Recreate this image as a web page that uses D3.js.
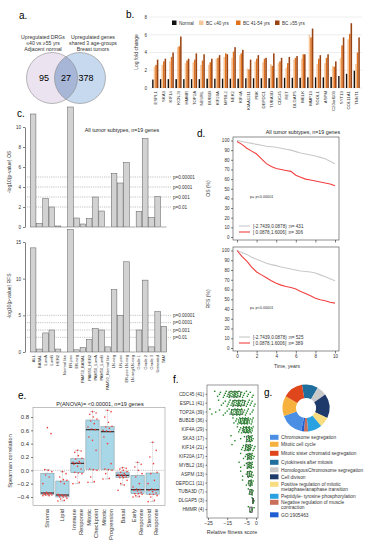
<!DOCTYPE html>
<html>
<head>
<meta charset="utf-8">
<script src="https://cdn.jsdelivr.net/npm/d3@7"></script>
<style>
body{margin:0;background:#fff}
svg{font-family:"Liberation Sans",Arial,sans-serif;display:block}
</style>
</head>
<body>
<svg id="fig" width="377" height="550"></svg>
<script>
// ---- panel a : venn counts
var vennCounts = [95, 27, 378];
var vennLeftText = ["Upregulated DRGs", "\u226440 vs \u226555 yrs", "Adjacent normal"];
var vennRightText = ["Upregulated genes", "shared 3 age-groups", "Breast tumors"];

// ---- panel b : log fold change
var genesB = ["ESPL1","SKA3","KIF14","KCNJ3","HMMR","TOP2A","NEURL","BUB1B","KIF20A","MYBL2","NEK2","KIF4A","KIAA1211","PBK","DEPDC1","TUBA3D","CDC45","RET","DLGAP5","MELK","MMP13","SGOL1","ASPM","C20orf103","SYT13","COL11A1","TNNT1"];
var groupsB = ["Normal", "BC \u226440 yrs", "BC 41-54 yrs", "BC \u226555 yrs"];
var fcNormal = [0.95,1.0,1.0,1.0,1.0,1.0,1.0,1.05,1.05,1.05,1.05,1.05,1.1,1.1,1.1,1.1,1.15,1.15,1.15,1.15,1.2,1.2,1.2,1.25,1.35,1.6,1.95];
var fcYoung  = [2.4,2.6,3.0,4.6,2.8,2.9,2.6,2.6,3.3,3.5,3.4,3.7,2.2,3.0,2.9,2.7,2.8,2.3,3.2,3.3,6.0,2.7,2.8,2.5,3.4,5.5,2.7];
var fcMid    = [2.6,3.0,3.5,4.7,3.1,3.2,3.1,2.9,3.4,3.9,4.1,3.9,2.1,3.3,3.3,2.5,3.0,2.8,3.4,3.8,5.7,3.3,3.4,2.4,4.8,6.1,4.0];
var fcOld    = [3.2,3.3,4.0,5.8,3.3,3.9,3.8,3.3,3.7,3.8,4.6,4.3,3.2,3.7,3.4,3.9,3.4,3.5,3.6,3.8,6.7,3.7,3.8,3.0,5.7,7.3,5.7];
var colorsB = ["#111111", "#f7c79c", "#e0711d", "#9a4413"];

// ---- panel c : -log10 p values per subtype
var subtypes = ["ALL","BASAL","LumA","LumB","HER2","Normal like","ER-pos","ER-neg","PAM50_BASAL","PAM50_HER2","PAM50_LumA","PAM50_LumB","PAM50_Normal like","LN-neg","LN-pos","ER-pos LN-neg","LN-neg/LN-neg","Grade 1","Grade 2","Grade 3","Untreated","TAM"];
var osLogP  = [11.3,0.35,2.85,2.0,0.1,0,12,0.9,0.3,0.85,3.0,1.6,0,5.35,4.4,6.45,0,1.55,8.85,0.95,3.05,0];
var rfsLogP = [14.2,0.4,2.6,3.0,0.4,0,16.7,0.3,0.6,1.7,3.2,3.0,0.7,8.5,5.0,12.3,0,3.0,9.8,0.7,5.5,3.5];
var pLines = [5, 4, 3, 2];
var pLabels = ["p=0.00001", "p=0.0001", "p=0.001", "p=0.01"];

// ---- panel d : survival curves
var kmYears = [0,0.5,1,1.5,2,2.5,3,3.5,4,4.5,5,5.5,6,6.5,7,7.5,8,8.5,9,9.5,10];
var osLow  = [100,99,98,97,96,95,94,93.5,93,92,91,90,88.5,87,86,85,84,82.5,81,78.5,76];
var osHigh = [99,96,92,89,86,81,76,73,71,70,69,68,64,62,60,59,58,57,56,55,53];
var rfsLow  = [100,98,96,93,91,89,87,85.5,84.5,83,82,81,80,79,78.5,78,77,75,73,71,69];
var rfsHigh = [100,94,89,83,78,75,72,69,66.5,64.5,63,62,60.5,58,56,53.5,51,49.5,48.5,47,46];
var osLegend = ["[-2.7439,0.0878) :n= 431", "[ 0.0878,1.6006] :n= 306"];
var rfsLegend = ["[-2.7439,0.0878) :n= 525", "[ 0.0878,1.6006] :n= 389"];

// ---- panel e : spearman correlation per module
var modules = ["Stroma","Lipid","Immune Response","Mitotic Checkpoint","Mitotic Progression","Basal","Early Response","Steroid Response"];
var rhoStroma = [-0.38,-0.38,-0.37,-0.37,-0.36,-0.36,-0.35,-0.35,-0.35,-0.34,-0.33,-0.2,-0.1,-0.07,-0.02,0.0,0.01,0.55,0.64];
var rhoLipid = [-0.46,-0.45,-0.43,-0.42,-0.4,-0.4,-0.39,-0.38,-0.38,-0.37,-0.37,-0.36,-0.2,-0.17,-0.15,-0.14,-0.1,-0.05,-0.02];
var rhoImmune = [-0.2,-0.18,-0.1,-0.05,-0.04,-0.03,0.02,0.06,0.09,0.105,0.11,0.12,0.13,0.17,0.18,0.22,0.27,0.29,0.3];
var rhoCheckpoint = [-0.18,-0.17,-0.1,0.0,0.01,0.02,0.3,0.45,0.5,0.61,0.62,0.65,0.7,0.74,0.77,0.8,0.84,0.86,0.88];
var rhoProgression = [-0.13,-0.12,-0.05,0.0,0.01,0.02,0.1,0.4,0.5,0.58,0.59,0.6,0.63,0.65,0.66,0.72,0.8,0.88,0.9];
var rhoBasal = [-0.3,-0.22,-0.2,-0.15,-0.11,-0.11,-0.1,-0.09,-0.08,-0.075,-0.07,-0.06,-0.05,-0.03,-0.02,0.0,0.02,0.03,0.04];
var rhoEarly = [-0.4,-0.39,-0.38,-0.36,-0.35,-0.35,-0.33,-0.31,-0.3,-0.29,-0.28,-0.25,-0.2,-0.1,-0.05,0.0,0.05,0.09,0.12];
var rhoSteroid = [-0.47,-0.45,-0.4,-0.38,-0.36,-0.36,-0.34,-0.32,-0.3,-0.29,-0.28,-0.2,-0.15,-0.05,-0.03,0.1,0.2,0.3,0.42];
var rhoTicks = [-0.4,-0.2,0.0,0.2,0.4,0.6,0.8];

// ---- panel f : relative fitness scores
var fitGenes = ["CDC45 (41)","ESPL1 (41)","TOP2A (39)","BUB1B (36)","KIF4A (29)","SKA3 (17)","KIF14 (21)","KIF20A (17)","MYBL2 (16)","ASPM (13)","DEPDC1 (11)","TUBA3D (7)","DLGAP5 (3)","HMMR (4)"];
var fitScores = [
  [-21.5,-20,-19,-18.5,-17,-16.5,-16,-15.5,-15,-14.5,-14,-14,-13.5,-13,-13,-12.5,-12,-12,-11.5,-11.5,-11,-11,-10.5,-10.5,-10,-10,-9.5,-9.5,-9,-8.5,-8,-7.5,-7,-6.5,-6,-5,-4.5,-4,-3,-2,-1.5],
  [-19.5,-18,-17,-16,-15,-14.5,-14,-13.5,-13,-12.5,-12,-12,-11.5,-11,-11,-10.5,-10,-10,-9.5,-9.5,-9,-9,-8.5,-8.5,-8,-8,-7.5,-7,-7,-6.5,-6,-5.5,-5,-4.5,-4,-3.5,-3,-2.5,-2,-1,-0.5],
  [-24,-23,-21,-19,-17,-16,-15,-14,-13.5,-13,-12.5,-12,-12,-11.5,-11,-11,-10.5,-10.5,-10,-10,-9.5,-9.5,-9,-9,-8.5,-8.5,-8,-8,-7.5,-7,-6.5,-6,-5.5,-5,-4.5,-4,-3,-2,-1.5],
  [-12,-11.5,-10.5,-10,-9.5,-9,-9,-8.5,-8.5,-8,-8,-7.5,-7.5,-7,-7,-6.5,-6.5,-6,-6,-6,-5.5,-5.5,-5,-5,-5,-4.5,-4.5,-4,-4,-3.5,-3.5,-3,-2.5,-2,-2,-1.5],
  [-9.7,-9,-8.5,-8,-7.5,-7,-7,-6.5,-6,-6,-5.5,-5.5,-5,-5,-5,-4.5,-4.5,-4,-4,-4,-3.5,-3.5,-3,-3,-2.5,-2.5,-2,-2,-1.5],
  [-13,-11,-8,-6,-5,-4.5,-4,-4,-3.5,-3.5,-3,-3,-2.5,-2.5,-2,-2,-1.5],
  [-12.5,-7.5,-7,-6.5,-6,-5.5,-5,-5,-4.5,-4.5,-4,-4,-3.5,-3.5,-3,-3,-2.5,-2,-1.5,-1,-0.5],
  [-8,-6.5,-5.5,-5,-4.5,-4,-4,-3.5,-3.5,-3,-3,-2.5,-2.5,-2,-2,-1.5,-1],
  [-8.8,-8,-6,-5,-4.5,-4,-4,-3.5,-3.5,-3,-3,-2.5,-2.5,-2,-2,-1.5],
  [-8,-7,-5,-4.5,-4,-3.5,-3.5,-3,-3,-2.5,-2,-2,-1.5],
  [-7,-5,-4,-3.5,-3,-3,-2.5,-2.5,-2,-2,-1.5],
  [-4,-3.5,-3,-2.5,-2,-2,-1.5],
  [-2,-1.5,-1],
  [-4,-3,-2,-1]
];
var fitTicks = [-25, -15, -5, 0];

// ---- panel g : GO terms (legend order)
var goTerms = ["Chromosome segregation","Mitotic cell cycle","Mitotic sister chromatid segregation","Cytokinesis after mitosis","HomologousChromosome segregation","Cell divison","Positive regulation of mitotic|metaphase/anaphase transition","Peptidyle- tyrosine phosphorylation","Negative regulation of muscle|contraction","GO:1905463"];
var goShare = [58, 50, 50, 40, 25, 60, 25, 35, 10, 7];
var goColors = ["#4a8fe3","#f7b13e","#e0461c","#1f6e9e","#c9c9c9","#1d3a6b","#f8dc80","#2aa2e2","#c9705a","#1e5ed2"];
var goRingOrder = [3, 4, 5, 6, 7, 8, 9, 0, 1, 2];

var svg = d3.select("#fig");

function panelLabel(x, y, t) {
  svg.append("text").attr("x", x).attr("y", y).attr("font-size", 10).text(t);
}

// ================= a
panelLabel(19, 19, "a.");
var defs = svg.append("defs");
defs.append("clipPath").attr("id", "clipL").append("circle").attr("cx", 52).attr("cy", 78).attr("r", 25.5);
svg.append("circle").attr("cx", 52).attr("cy", 78).attr("r", 25.5).attr("fill", "#ebe4f0");
svg.append("circle").attr("cx", 80).attr("cy", 78).attr("r", 25.5).attr("fill", "#c6d9ee");
svg.append("circle").attr("cx", 80).attr("cy", 78).attr("r", 25.5).attr("fill", "#a7b6d6").attr("clip-path", "url(#clipL)");
[52, 80].forEach(function(cx){
  svg.append("circle").attr("cx", cx).attr("cy", 78).attr("r", 25.5).attr("fill", "none").attr("stroke", "#8a8a8a").attr("stroke-width", 0.6);
});
[44, 66, 86].forEach(function(x, i){
  svg.append("text").attr("x", x).attr("y", 81).attr("font-size", 9).attr("text-anchor", "middle").text(vennCounts[i]);
});
vennLeftText.forEach(function(t, i){
  svg.append("text").attr("x", 43).attr("y", 39 + i * 6).attr("font-size", 5.2).attr("text-anchor", "middle").attr("fill", "#333").text(t);
});
vennRightText.forEach(function(t, i){
  svg.append("text").attr("x", 93).attr("y", 39 + i * 6).attr("font-size", 5.2).attr("text-anchor", "middle").attr("fill", "#333").text(t);
});

// ================= b
panelLabel(126, 18, "b.");
var series = [fcNormal, fcYoung, fcMid, fcOld];
var xb = d3.scaleBand().domain(genesB).range([151, 361]).paddingInner(0.2).paddingOuter(0.15);
var xbg = d3.scaleBand().domain(d3.range(4)).range([0, xb.bandwidth()]);
var yb = d3.scaleLinear().domain([0, 8]).range([88, 17]);
var gb = svg.append("g");
gb.selectAll("line.grid").data([0, 2, 4, 6, 8]).join("line")
  .attr("x1", 149).attr("x2", 362).attr("y1", yb).attr("y2", yb)
  .attr("stroke", "#dcdcdc").attr("stroke-width", 0.5);
gb.append("g").attr("transform", "translate(148,0)")
  .call(d3.axisLeft(yb).tickValues([0, 2, 4, 6, 8]).tickSize(0).tickPadding(1))
  .call(function(g){ g.select(".domain").remove(); })
  .selectAll("text").attr("font-size", 4.5).attr("fill", "#333");
genesB.forEach(function(g, gi){
  series.forEach(function(s, si){
    gb.append("rect").attr("x", xb(g) + xbg(si)).attr("width", xbg.bandwidth())
      .attr("y", yb(s[gi])).attr("height", yb(0) - yb(s[gi])).attr("fill", colorsB[si]);
  });
  gb.append("text").attr("transform", "translate(" + (xb(g) + xb.bandwidth() / 2 + 1.5) + ",91) rotate(-90)")
    .attr("font-size", 4.3).attr("text-anchor", "end").attr("fill", "#333").text(g);
});
gb.append("text").attr("transform", "translate(138,52) rotate(-90)").attr("font-size", 5).attr("text-anchor", "middle").attr("fill", "#333").text("Log fold change");
var legX = [172, 199, 236, 275];
groupsB.forEach(function(t, i){
  gb.append("rect").attr("x", legX[i]).attr("y", 20.5).attr("width", 4.5).attr("height", 4.5).attr("fill", colorsB[i]);
  gb.append("text").attr("x", legX[i] + 7).attr("y", 24.6).attr("font-size", 4.6).attr("fill", "#333").text(t);
});

// ================= c
panelLabel(17, 117, "c.");
var xc = d3.scaleBand().domain(subtypes).range([30, 167]).padding(0);
var yOS = d3.scaleLinear().domain([0, 10]).range([227, 127]);
var yRFS = d3.scaleLinear().domain([0, 15]).range([352, 242]);
function barPanel(vals, y, ticks, label, labelY) {
  var g = svg.append("g");
  pLines.forEach(function(p, i){
    g.append("line").attr("x1", 27).attr("x2", 171).attr("y1", y(p)).attr("y2", y(p))
      .attr("stroke", "#888").attr("stroke-width", 0.5).attr("stroke-dasharray", "1.2,1");
    g.append("text").attr("x", 173).attr("y", y(p) + 1.7).attr("font-size", 4.6).attr("fill", "#333").text(pLabels[i]);
  });
  g.selectAll("rect").data(vals).join("rect")
    .attr("x", function(d, i){ return xc(subtypes[i]) + 0.3; })
    .attr("width", xc.bandwidth() - 0.6)
    .attr("y", function(d){ return y(d); })
    .attr("height", function(d){ return Math.max(0.01, y(0) - y(d)); })
    .attr("fill", "#d2d2d2").attr("stroke", "#5a5a5a").attr("stroke-width", 0.5);
  g.append("g").attr("transform", "translate(25,0)")
    .call(d3.axisLeft(y).tickValues(ticks).tickSize(2).tickSizeOuter(0).tickPadding(2))
    .call(function(a){ a.select(".domain").attr("stroke-width", 0.5); a.selectAll("line").attr("stroke-width", 0.5); })
    .selectAll("text").attr("font-size", 4.6).attr("fill", "#333");
  g.append("text").attr("transform", "translate(11," + labelY + ") rotate(-90)").attr("font-size", 5).attr("text-anchor", "middle").attr("fill", "#333").text(label);
  return g;
}
var gOS = barPanel(osLogP, yOS, [0, 2, 4, 6, 8, 10], "-log10(p-value) OS", 172);
gOS.append("text").attr("x", 122).attr("y", 132).attr("font-size", 5.3).attr("text-anchor", "middle").attr("fill", "#222").text("All tumor subtypes, n=19 genes");
var gRFS = barPanel(rfsLogP, yRFS, [0, 5, 10, 15], "-log10(p-value) RFS", 296);
subtypes.forEach(function(s){
  gRFS.append("text").attr("transform", "translate(" + (xc(s) + xc.bandwidth() / 2 + 1.4) + ",355) rotate(-90)")
    .attr("font-size", 4).attr("text-anchor", "end").attr("fill", "#333").text(s);
});

// ================= d
panelLabel(197, 137, "d.");
svg.append("text").attr("x", 303).attr("y", 134).attr("font-size", 5.3).attr("text-anchor", "middle").attr("fill", "#222").text("All tumor subtypes, n=19 genes");
var xk = d3.scaleLinear().domain([0, 10]).range([237, 335]);
function kmPanel(top, bottom, lowVals, highVals, label, legend, pY, legY, showX) {
  var yk = d3.scaleLinear().domain([0, 100]).range([bottom - 3, top + 3.5]);
  var g = svg.append("g");
  g.append("rect").attr("x", 233).attr("y", top).attr("width", 106).attr("height", bottom - top)
    .attr("fill", "none").attr("stroke", "#444").attr("stroke-width", 0.6);
  g.append("g").attr("transform", "translate(233,0)")
    .call(d3.axisLeft(yk).tickValues(d3.range(0, 101, 10)).tickSize(2).tickSizeOuter(0).tickPadding(1.5))
    .call(function(a){ a.select(".domain").remove(); a.selectAll("line").attr("stroke-width", 0.5); })
    .selectAll("text").attr("font-size", 4.6).attr("fill", "#333");
  var ax = g.append("g").attr("transform", "translate(0," + bottom + ")")
    .call(d3.axisBottom(xk).tickValues([0, 2, 4, 6, 8, 10]).tickSize(2.5).tickSizeOuter(0).tickPadding(1.5))
    .call(function(a){ a.select(".domain").remove(); a.selectAll("line").attr("stroke-width", 0.5); });
  ax.selectAll("text").attr("font-size", 4.6).attr("fill", "#333");
  if (!showX) ax.selectAll("text").remove();
  var line = d3.line().x(function(d, i){ return xk(kmYears[i]); }).y(function(d){ return yk(d); });
  g.append("path").attr("d", line(lowVals)).attr("fill", "none").attr("stroke", "#c9c9c9").attr("stroke-width", 1.1);
  g.append("path").attr("d", line(highVals)).attr("fill", "none").attr("stroke", "#f23f3f").attr("stroke-width", 1.1);
  g.append("text").attr("transform", "translate(210," + ((top + bottom) / 2) + ") rotate(-90)").attr("font-size", 5).attr("text-anchor", "middle").attr("fill", "#333").text(label);
  g.append("text").attr("x", 250).attr("y", pY).attr("font-size", 3.8).attr("fill", "#333").text("p= p<0.00001");
  ["#c9c9c9", "#f23f3f"].forEach(function(c, i){
    g.append("line").attr("x1", 239).attr("x2", 250).attr("y1", legY + i * 6).attr("y2", legY + i * 6).attr("stroke", c).attr("stroke-width", 1.1);
    g.append("text").attr("x", 253).attr("y", legY + i * 6 + 1.6).attr("font-size", 4.6).attr("fill", "#333").text(legend[i]);
  });
}
kmPanel(137, 240, osLow, osHigh, "OS (%)", osLegend, 198, 226, false);
kmPanel(247, 351, rfsLow, rfsHigh, "RFS (%)", rfsLegend, 309, 337, true);
svg.append("text").attr("x", 287).attr("y", 368).attr("font-size", 5).attr("text-anchor", "middle").attr("fill", "#333").text("Time, years");

// ================= e
panelLabel(18, 399, "e.");
var rhoSets = [rhoStroma, rhoLipid, rhoImmune, rhoCheckpoint, rhoProgression, rhoBasal, rhoEarly, rhoSteroid];
var xe = d3.scaleBand().domain(modules).range([39, 161]).padding(0.12);
var ye = d3.scaleLinear().domain([-0.4, 0.8]).range([497, 417]);
var ge = svg.append("g");
ge.append("text").attr("x", 100).attr("y", 406).attr("font-size", 5.6).attr("text-anchor", "middle").attr("fill", "#222").text("P(ANOVA)= <0.00001, n=19 genes");
ge.append("rect").attr("x", 33).attr("y", ye(0.94)).attr("width", 132).attr("height", ye(-0.53) - ye(0.94))
  .attr("fill", "none").attr("stroke", "#999").attr("stroke-width", 0.6);
ge.append("line").attr("x1", 33).attr("x2", 165).attr("y1", ye(0)).attr("y2", ye(0))
  .attr("stroke", "#888").attr("stroke-width", 0.5).attr("stroke-dasharray", "1.2,1");
ge.append("g").attr("transform", "translate(33,0)")
  .call(d3.axisLeft(ye).tickValues(rhoTicks).tickFormat(d3.format(".1f")).tickSize(2).tickSizeOuter(0).tickPadding(2))
  .call(function(a){ a.select(".domain").remove(); a.selectAll("line").attr("stroke-width", 0.5); })
  .selectAll("text").attr("font-size", 6).attr("fill", "#333");
ge.append("text").attr("transform", "translate(12,461) rotate(-90)").attr("font-size", 5.6).attr("text-anchor", "middle").attr("fill", "#333").text("Spearman correlation");
rhoSets.forEach(function(vals, k){
  var s = vals.slice().sort(d3.ascending);
  var q1 = d3.quantile(s, 0.25), med = d3.quantile(s, 0.5), q3 = d3.quantile(s, 0.75);
  var iqr = q3 - q1;
  var lo = d3.min(s.filter(function(v){ return v >= q1 - 1.5 * iqr; }));
  var hi = d3.max(s.filter(function(v){ return v <= q3 + 1.5 * iqr; }));
  var x0 = xe(modules[k]), w = xe.bandwidth(), cx = x0 + w / 2;
  ge.append("line").attr("x1", cx).attr("x2", cx).attr("y1", ye(hi)).attr("y2", ye(lo))
    .attr("stroke", "#999").attr("stroke-width", 0.5).attr("stroke-dasharray", "1,1");
  [lo, hi].forEach(function(v){
    ge.append("line").attr("x1", cx - 2.5).attr("x2", cx + 2.5).attr("y1", ye(v)).attr("y2", ye(v)).attr("stroke", "#999").attr("stroke-width", 0.5);
  });
  ge.append("rect").attr("x", x0).attr("y", ye(q3)).attr("width", w).attr("height", ye(q1) - ye(q3))
    .attr("fill", "#a8d8e8").attr("stroke", "#7a8f96").attr("stroke-width", 0.5);
  ge.append("line").attr("x1", x0).attr("x2", x0 + w).attr("y1", ye(med)).attr("y2", ye(med)).attr("stroke", "#3b2a2a").attr("stroke-width", 1.2);
  vals.forEach(function(v, i){
    ge.append("circle").attr("cx", cx + ((i * 7) % 11 - 5) * 0.9).attr("cy", ye(v)).attr("r", 0.8).attr("fill", "#ef3b3b");
  });
  var parts = modules[k].split(" ");
  parts.forEach(function(p, j){
    ge.append("text").attr("transform", "translate(" + (cx + 2 + (j - (parts.length - 1) / 2) * 6.5) + ",509) rotate(-90)")
      .attr("font-size", 5.8).attr("text-anchor", "end").attr("fill", "#333").text(p);
  });
});

// ================= f
panelLabel(173, 383, "f.");
var xf = d3.scaleLinear().domain([-25, 0]).range([208, 256]);
var yf = d3.scaleBand().domain(fitGenes).range([389, 515]).padding(0.2);
var gf = svg.append("g");
gf.append("rect").attr("x", 207).attr("y", 385).attr("width", 51).attr("height", 133)
  .attr("fill", "none").attr("stroke", "#555").attr("stroke-width", 0.6);
gf.append("g").attr("transform", "translate(207,0)")
  .call(d3.axisLeft(yf).tickSize(1.5).tickSizeOuter(0).tickPadding(1.5))
  .call(function(a){ a.select(".domain").remove(); a.selectAll("line").attr("stroke-width", 0.5); })
  .selectAll("text").attr("font-size", 4.7).attr("fill", "#333");
gf.append("g").attr("transform", "translate(0,518)")
  .call(d3.axisBottom(xf).tickValues(fitTicks).tickSize(2).tickSizeOuter(0).tickPadding(1.5))
  .call(function(a){ a.select(".domain").remove(); a.selectAll("line").attr("stroke-width", 0.5); })
  .selectAll("text").attr("font-size", 5).attr("fill", "#333");
gf.append("text").attr("x", 232).attr("y", 534).attr("font-size", 5.3).attr("text-anchor", "middle").attr("fill", "#333").text("Relative fitness score");
fitScores.forEach(function(vals, k){
  var cy = yf(fitGenes[k]) + yf.bandwidth() / 2;
  var s = vals.slice().sort(d3.ascending);
  var q1 = d3.quantile(s, 0.25), med = d3.quantile(s, 0.5), q3 = d3.quantile(s, 0.75);
  gf.append("rect").attr("x", xf(q1)).attr("y", cy - 2.6).attr("width", xf(q3) - xf(q1)).attr("height", 5.2)
    .attr("fill", "none").attr("stroke", "#222").attr("stroke-width", 0.6);
  gf.append("line").attr("x1", xf(med)).attr("x2", xf(med)).attr("y1", cy - 2.6).attr("y2", cy + 2.6).attr("stroke", "#222").attr("stroke-width", 0.7);
  vals.forEach(function(v, i){
    gf.append("rect").attr("x", xf(v) - 0.7).attr("y", cy + ((i * 5) % 7 - 3) * 1.0 - 0.7).attr("width", 1.4).attr("height", 1.4).attr("fill", "#23872a");
  });
});

// ================= g
panelLabel(264, 396, "g.");
var ringVals = goRingOrder.map(function(i){ return goShare[i]; });
var pie = d3.pie().sort(null).startAngle(-10 * Math.PI / 180).endAngle(350 * Math.PI / 180);
var arc = d3.arc().innerRadius(10).outerRadius(23.5);
svg.append("g").attr("transform", "translate(306,408)")
  .selectAll("path").data(pie(ringVals)).join("path")
  .attr("d", arc).attr("fill", function(d, i){ return goColors[goRingOrder[i]]; });
var legRows = [438, 445, 454, 463, 470.5, 477.5, 485, 497, 503, 515.5];
goTerms.forEach(function(t, i){
  svg.append("rect").attr("x", 270).attr("y", legRows[i] - 3.2).attr("width", 8.5).attr("height", 5).attr("fill", goColors[i]);
  t.split("|").forEach(function(line, j){
    svg.append("text").attr("x", 281).attr("y", legRows[i] + 1.2 + j * 5).attr("font-size", 4.8).attr("fill", "#333").text(line);
  });
});
</script>
</body>
</html>
